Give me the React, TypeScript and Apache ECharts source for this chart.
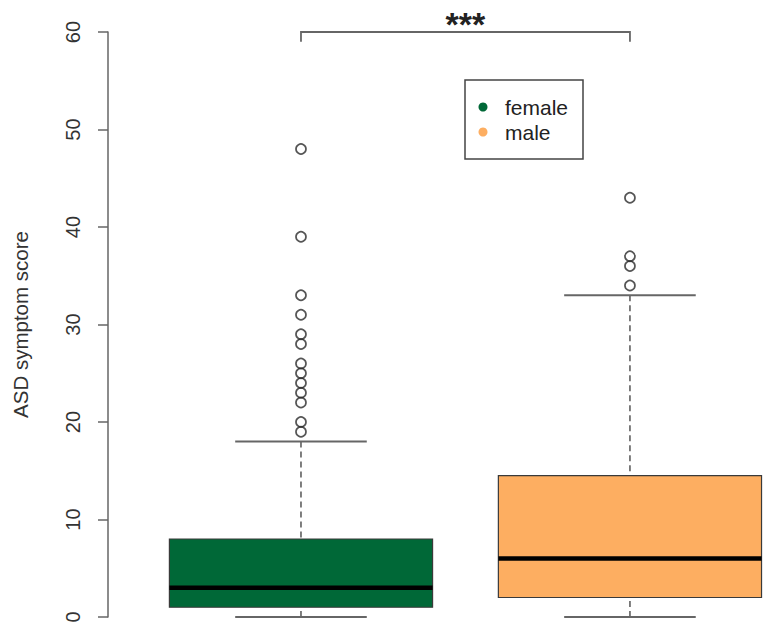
import React, { useEffect, useRef } from "react";
import * as echarts from "echarts";

// ---- data ----
const groups = ["female", "male"];
const groupPos = [1, 2];
const whiskerLow = [0, 0];
const q1 = [1, 2];
const median = [3, 6];
const q3 = [8, 14.5];
const whiskerHigh = [18, 33];
const femaleOutliers = [48, 39, 33, 31, 29, 28, 26, 25, 24, 23, 22, 20, 19];
const maleOutliers = [43, 37, 36, 34];
const yMin = 0;
const yMax = 60;
const yInterval = 10;
const bracket = { from: 1, to: 2, y: 60, drop: 1, label: "***" };
const yTitle = "ASD symptom score";

// ---- styles ----
const colors = ["#006837", "#FDAE61"];
const FONT = "'Liberation Sans', Arial, Helvetica, sans-serif";
const BOX_W = 0.8;
const CAP_W = 0.4;
const X_MIN = 0.5;
const X_MAX = 2.447; // visible part of the x range (plot is cropped at the right edge)

export default function App() {
  const ref = useRef<HTMLDivElement>(null);
  useEffect(() => {
    if (!ref.current) return;
    const chart = echarts.init(ref.current, undefined, { renderer: "svg" });

    const boxRender = (params: any, api: any) => {
      const x = api.value(0);
      const lo = api.value(1);
      const b1 = api.value(2);
      const md = api.value(3);
      const b3 = api.value(4);
      const hi = api.value(5);
      const color = api.visual("color");
      const pL = api.coord([x - BOX_W / 2, b3]);
      const pR = api.coord([x + BOX_W / 2, b1]);
      const cL = api.coord([x - CAP_W / 2, hi]);
      const cR = api.coord([x + CAP_W / 2, lo]);
      const pHi = api.coord([x, hi]);
      const pLo = api.coord([x, lo]);
      const pMd = api.coord([x, md]);
      const whiskStyle = { stroke: "#555", lineWidth: 1.5, lineDash: [6, 4] };
      const capStyle = { stroke: "#666", lineWidth: 1.8 };
      return {
        type: "group",
        children: [
          { type: "line", shape: { x1: pHi[0], y1: pHi[1], x2: pHi[0], y2: pL[1] }, style: whiskStyle },
          { type: "line", shape: { x1: pLo[0], y1: pLo[1], x2: pLo[0], y2: pR[1] }, style: whiskStyle },
          { type: "line", shape: { x1: cL[0], y1: pHi[1], x2: cR[0], y2: pHi[1] }, style: capStyle },
          { type: "line", shape: { x1: cL[0], y1: pLo[1], x2: cR[0], y2: pLo[1] }, style: capStyle },
          {
            type: "rect",
            shape: { x: pL[0], y: pL[1], width: pR[0] - pL[0], height: pR[1] - pL[1] },
            style: { fill: color, stroke: "#3a3a3a", lineWidth: 1.2 },
          },
          {
            type: "line",
            shape: { x1: pL[0], y1: pMd[1], x2: pR[0], y2: pMd[1] },
            style: { stroke: "#000", lineWidth: 4.5 },
          },
        ],
      };
    };

    const boxSeries = groups.map((g, i) => ({
      name: g,
      type: "custom",
      renderItem: boxRender,
      clip: false,
      itemStyle: { color: colors[i] },
      encode: { x: 0, y: [1, 2, 3, 4, 5] },
      data: [[groupPos[i], whiskerLow[i], q1[i], median[i], q3[i], whiskerHigh[i]]],
      z: 2,
    }));

    const outlierSeries = [femaleOutliers, maleOutliers].map((arr, i) => ({
      name: groups[i] + " outliers",
      type: "scatter",
      symbol: "circle",
      symbolSize: 10,
      itemStyle: { color: "rgba(0,0,0,0)", borderColor: "#2a2a2a", borderWidth: 1.7 },
      data: arr.map((v) => [groupPos[i], v]),
      z: 3,
    }));

    const bracketSeries = {
      name: "significance",
      type: "custom",
      clip: false,
      renderItem: (params: any, api: any) => {
        const a = api.coord([api.value(0), api.value(2)]);
        const b = api.coord([api.value(1), api.value(2)]);
        const aD = api.coord([api.value(0), api.value(2) - api.value(3)]);
        return {
          type: "group",
          children: [
            {
              type: "polyline",
              shape: { points: [[a[0], aD[1]], a, b, [b[0], aD[1]]] },
              style: { stroke: "#666", lineWidth: 1.8, fill: "none" },
            },
            {
              type: "text",
              x: (a[0] + b[0]) / 2,
              y: a[1] + 9,
              style: {
                text: bracket.label,
                font: `bold 34px ${FONT}`,
                fill: "#222",
                align: "center",
                verticalAlign: "bottom",
              },
            },
          ],
        };
      },
      encode: { x: [0, 1], y: 2 },
      data: [[bracket.from, bracket.to, bracket.y, bracket.drop]],
      z: 4,
    };

    const legendX = 465;
    const legendY = 80;
    chart.setOption({
      animation: false,
      grid: { left: 136.5, right: 0, top: 32, height: 585 },
      xAxis: { type: "value", min: X_MIN, max: X_MAX, show: false },
      yAxis: {
        type: "value",
        min: yMin,
        max: yMax,
        interval: yInterval,
        offset: 28.5,
        splitLine: { show: false },
        axisLine: { show: true, lineStyle: { color: "#666", width: 1.5 } },
        axisTick: { show: true, length: 10, lineStyle: { color: "#666", width: 1.5 } },
        axisLabel: {
          rotate: 90,
          margin: 25,
          color: "#333",
          fontSize: 20,
          fontFamily: FONT,
        },
        name: yTitle,
        nameLocation: "middle",
        nameRotate: 90,
        nameGap: 77,
        nameTextStyle: { color: "#333", fontSize: 20.5, fontFamily: FONT },
      },
      series: [...boxSeries, ...outlierSeries, bracketSeries],
      graphic: [
        {
          type: "rect",
          shape: { x: legendX, y: legendY, width: 118, height: 79 },
          style: { fill: "none", stroke: "#444", lineWidth: 1.5 },
        },
        ...groups.flatMap((g, i) => [
          {
            type: "circle",
            shape: { cx: legendX + 18, cy: legendY + 27 + i * 25, r: 4.5 },
            style: { fill: colors[i] },
          },
          {
            type: "text",
            x: legendX + 40,
            y: legendY + 27 + i * 25,
            style: {
              text: g,
              font: `21px ${FONT}`,
              fill: "#222",
              verticalAlign: "middle",
            },
          },
        ]),
      ],
    });
    return () => chart.dispose();
  }, []);
  return <div ref={ref} style={{ width: 777, height: 634, position: "absolute", left: 0, top: 0 }} />;
}
